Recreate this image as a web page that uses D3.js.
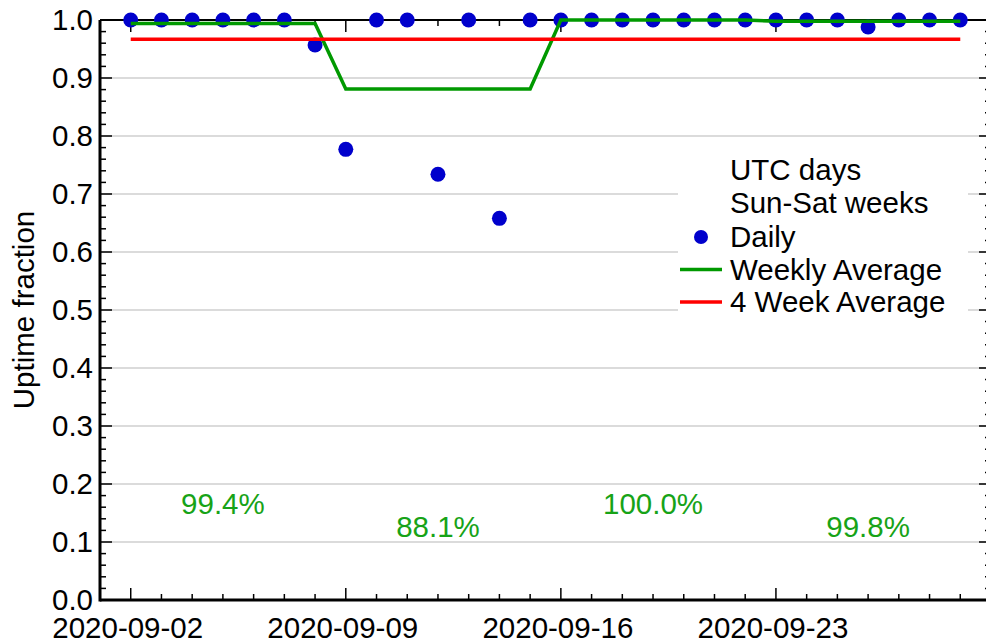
<!DOCTYPE html>
<html>
<head>
<meta charset="utf-8">
<script src="https://cdn.jsdelivr.net/npm/d3@7"></script>
<style>
  html, body { margin: 0; padding: 0; background: #fff; overflow: hidden; }
  svg { display: block; font-family: "Liberation Sans", Arial, Helvetica, sans-serif; }
</style>
</head>
<body>
<svg id="chart" width="986" height="643"></svg>
<script>
// daily uptime, one value per UTC day starting at firstDay
var firstDay = "2020-09-02";
var dailyUptime = [
  1, 1, 1, 1, 1, 1, 0.957,
  0.777, 1, 1, 0.734, 1, 0.658, 1,
  1, 1, 1, 1, 1, 1, 1,
  1, 1, 1, 0.988, 1, 1, 1
];

// Sun-Sat weeks (as plotted), weekly average and its label
var weekStarts = ["2020-09-02", "2020-09-09", "2020-09-16", "2020-09-23"];
var weeklyAvg = [0.994, 0.881, 1.000, 0.998];
var weeklyLabels = ["99.4%", "88.1%", "100.0%", "99.8%"];

var fourWeekAvg = 0.967;

var xTickLabels = ["2020-09-02", "2020-09-09", "2020-09-16", "2020-09-23"];
var legendNotes = ["UTC days", "Sun-Sat weeks"];
var legendSeries = ["Daily", "Weekly Average", "4 Week Average"];

var parse = d3.utcParse("%Y-%m-%d");
var fmt = d3.utcFormat("%Y-%m-%d");

var blue = "#0000cc", green = "#009900", red = "#ff0000", labelGreen = "#17a317";
var fontSize = 29.5;

var plotL = 100, plotR = 991, plotT = 20, plotB = 600;

var svg = d3.select("#chart");

var x = d3.scaleUtc()
  .domain([parse("2020-09-01"), parse("2020-09-30")])
  .range([plotL, plotR]);
var y = d3.scaleLinear().domain([0, 1]).range([plotB, plotT]);

var start = parse(firstDay);
var daily = dailyUptime.map(function (v, i) {
  return { date: d3.utcDay.offset(start, i), value: v };
});
var lastDay = daily[daily.length - 1].date;

// gridlines
svg.append("g").selectAll("line")
  .data(d3.range(1, 10).map(function (i) { return i / 10; }))
  .enter().append("line")
  .attr("x1", plotL).attr("x2", plotR)
  .attr("y1", function (d) { return y(d); })
  .attr("y2", function (d) { return y(d); })
  .attr("stroke", "#cfcfcf").attr("stroke-width", 1.5);

// legend background hides gridlines
svg.append("rect")
  .attr("x", 678).attr("y", 146).attr("width", 290).attr("height", 172)
  .attr("fill", "#fff");

// axes frame
var frame = svg.append("g").attr("stroke", "#000");
frame.append("line").attr("x1", plotL).attr("x2", plotR).attr("y1", plotT).attr("y2", plotT)
  .attr("stroke-width", 2);
frame.append("line").attr("x1", plotL).attr("x2", plotR).attr("y1", plotB).attr("y2", plotB)
  .attr("stroke-width", 3);
frame.append("line").attr("x1", plotL).attr("x2", plotL).attr("y1", plotT).attr("y2", plotB + 1.5)
  .attr("stroke-width", 3);
frame.append("line").attr("x1", plotR).attr("x2", plotR).attr("y1", plotT).attr("y2", plotB)
  .attr("stroke-width", 2);

var allDays = d3.utcDay.range(parse("2020-09-02"), parse("2020-09-30"));
var weekTicks = xTickLabels.map(parse);
function isMajor(d) { return weekTicks.some(function (w) { return +w === +d; }); }

// x ticks, bottom (up) and top (down)
var xt = svg.append("g").attr("stroke", "#000").attr("stroke-width", 1.5);
xt.selectAll("line.b").data(allDays).enter().append("line")
  .attr("x1", function (d) { return x(d); }).attr("x2", function (d) { return x(d); })
  .attr("y1", plotB).attr("y2", function (d) { return plotB - (isMajor(d) ? 12 : 6); });
xt.selectAll("line.t").data(allDays).enter().append("line")
  .attr("x1", function (d) { return x(d); }).attr("x2", function (d) { return x(d); })
  .attr("y1", plotT).attr("y2", function (d) { return plotT + (isMajor(d) ? 12 : 6); });

// y ticks, left and right (inward)
var yMinor = d3.range(0, 51).map(function (i) { return i / 50; });
var yt = svg.append("g").attr("stroke", "#000").attr("stroke-width", 1.5);
yt.selectAll("line.l").data(yMinor).enter().append("line")
  .attr("y1", function (d) { return y(d); }).attr("y2", function (d) { return y(d); })
  .attr("x1", plotL).attr("x2", function (d, i) { return plotL + (i % 5 === 0 ? 12 : 6); });
yt.selectAll("line.r").data(yMinor).enter().append("line")
  .attr("y1", function (d) { return y(d); }).attr("y2", function (d) { return y(d); })
  .attr("x1", plotR).attr("x2", function (d, i) { return plotR - (i % 5 === 0 ? 12 : 6); });

// tick labels
svg.append("g").selectAll("text").data(weekTicks).enter().append("text")
  .attr("x", function (d) { return x(d) - 3; })
  .attr("y", 638)
  .attr("text-anchor", "middle")
  .attr("font-size", fontSize)
  .text(function (d) { return fmt(d); });

svg.append("g").selectAll("text").data(y.ticks(10)).enter().append("text")
  .attr("x", 93)
  .attr("y", function (d) { return y(d) + 10; })
  .attr("text-anchor", "end")
  .attr("font-size", fontSize)
  .text(d3.format(".1f"));

svg.append("text")
  .attr("transform", "translate(34,310) rotate(-90)")
  .attr("text-anchor", "middle")
  .attr("font-size", fontSize)
  .text("Uptime fraction");

// daily points
svg.append("g").selectAll("circle").data(daily).enter().append("circle")
  .attr("cx", function (d) { return x(d.date); })
  .attr("cy", function (d) { return y(d.value); })
  .attr("r", 7.5)
  .attr("fill", blue);

// weekly average line
var weekly = [];
weekStarts.forEach(function (s, i) {
  var d0 = parse(s);
  weekly.push({ date: d0, value: weeklyAvg[i] });
  weekly.push({ date: d3.utcDay.offset(d0, 6), value: weeklyAvg[i] });
});
var line = d3.line()
  .x(function (d) { return x(d.date); })
  .y(function (d) { return y(d.value); });

svg.append("path").datum(weekly)
  .attr("d", line)
  .attr("fill", "none").attr("stroke", green).attr("stroke-width", 3.5);

svg.append("path").datum([{ date: start, value: fourWeekAvg }, { date: lastDay, value: fourWeekAvg }])
  .attr("d", line)
  .attr("fill", "none").attr("stroke", red).attr("stroke-width", 3.5);

// weekly percentage labels
svg.append("g").selectAll("text").data(weekStarts).enter().append("text")
  .attr("x", function (s) { return x(d3.utcDay.offset(parse(s), 3)); })
  .attr("y", function (s, i) { return y(i % 2 ? 0.126 : 0.166) + 10; })
  .attr("text-anchor", "middle")
  .attr("font-size", fontSize)
  .attr("fill", labelGreen)
  .text(function (s, i) { return weeklyLabels[i]; });

// legend
var lg = svg.append("g").attr("font-size", fontSize);
legendNotes.forEach(function (t, i) {
  lg.append("text").attr("x", 730).attr("y", 180 + i * 33).text(t);
});
legendSeries.forEach(function (t, i) {
  var cy = 237 + i * 32.5;
  lg.append("text").attr("x", 730).attr("y", cy + 10).text(t);
  if (i === 0) {
    lg.append("circle").attr("cx", 701).attr("cy", cy).attr("r", 7).attr("fill", blue);
  } else {
    lg.append("line").attr("x1", 680).attr("x2", 722).attr("y1", cy).attr("y2", cy)
      .attr("stroke", i === 1 ? green : red).attr("stroke-width", 3.5);
  }
});
</script>
</body>
</html>
